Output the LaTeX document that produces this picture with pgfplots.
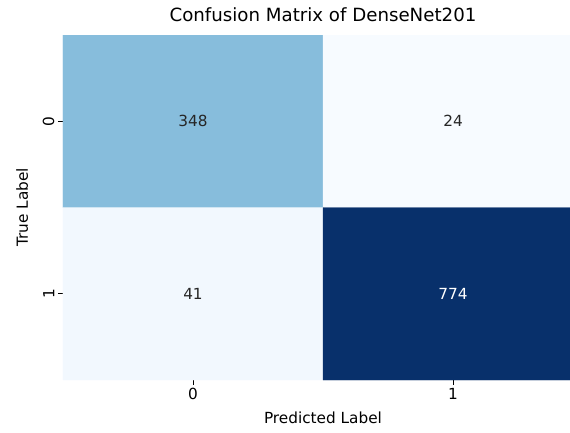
\documentclass[border=0pt]{standalone}
\usepackage{pgfplots}
\pgfplotsset{compat=1.18}
\usepackage{fontspec}
\setmainfont{DejaVu Sans}
\usetikzlibrary{calc}
\definecolor{annotdark}{HTML}{262626}
\begin{document}
\begin{tikzpicture}
\begin{axis}[
  name=ax,
  scale only axis,
  width=520pt, height=345pt,
  xmin=-0.5, xmax=1.5, ymin=-0.5, ymax=1.5,
  y dir=reverse,
  axis lines*=left, axis line style={draw=none},
  xtick={0,1}, ytick={0,1},
  xticklabels={0,1}, yticklabels={0,1},
  tick align=outside,
  major tick length=5pt,
  tick style={black, line width=0.9pt},
  ticklabel style={font=\fontsize{15.3}{18}\selectfont},
  yticklabel style={rotate=90, anchor=south},
  colormap={blues}{rgb255=(247,251,255) rgb255=(222,235,247) rgb255=(198,219,239) rgb255=(158,202,225) rgb255=(107,174,214) rgb255=(66,146,198) rgb255=(33,113,181) rgb255=(8,81,156) rgb255=(8,48,107)},
  point meta min=24, point meta max=774,
  title={Confusion Matrix of DenseNet201},
  title style={font=\fontsize{18.2}{22}\selectfont, at={(axis description cs:0.5,1.0232)}, anchor=base},
  xlabel={Predicted Label}, ylabel={True Label},
  label style={font=\fontsize{15.3}{18}\selectfont},
  xlabel style={at={(axis description cs:0.5,-0.1275)}, anchor=base},
  ylabel style={at={(axis description cs:-0.0673,0.5)}, anchor=base},
]
\addplot[matrix plot*, mesh/cols=2, point meta=explicit] coordinates {
  (0,0) [348] (1,0) [24]
  (0,1) [41]  (1,1) [774]
};
\addplot[draw=none, mark=none, nodes near coords, point meta=explicit symbolic,
  nodes near coords style={anchor=center, font=\fontsize{15.3}{18}\selectfont, text=annotdark}]
  coordinates {(0,0) [348] (1,0) [24] (0,1) [41]};
\addplot[draw=none, mark=none, nodes near coords, point meta=explicit symbolic,
  nodes near coords style={anchor=center, font=\fontsize{15.3}{18}\selectfont, text=white}]
  coordinates {(1,1) [774]};
\end{axis}
\pgfresetboundingbox
\path[use as bounding box] ($(ax.south west)+(-63pt,-52pt)$) rectangle ($(ax.south west)+(507pt,380pt)$);
\end{tikzpicture}
\end{document}
